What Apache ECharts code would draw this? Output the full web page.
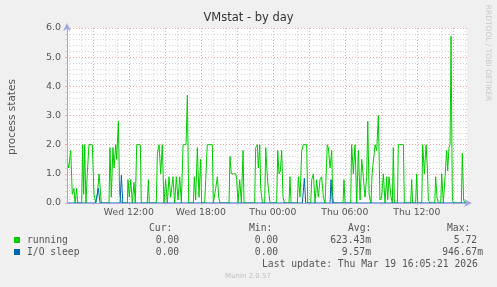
<!DOCTYPE html>
<html>
<head>
<meta charset="utf-8">
<script src="https://cdn.jsdelivr.net/npm/echarts@6/dist/echarts.min.js"></script>
<style>
html,body{margin:0;padding:0;background:#f0f0f0;}
#c{width:497px;height:287px;}
</style>
</head>
<body>
<div id="c"></div>
<script>
// time in hours since Wed 00:00
const runningTimes = [6.85,6.99,7.16,7.29,7.43,7.52,7.66,7.74,8.07,8.16,8.24,8.32,8.43,8.54,8.68,8.96,9.10,9.24,9.38,9.52,9.60,9.71,10.35,10.43,10.54,10.68,10.77,10.91,10.99,11.13,11.24,11.38,11.88,11.93,12.04,12.16,12.29,12.43,12.54,12.66,12.96,13.04,13.54,13.63,13.71,14.29,14.38,14.52,14.66,14.79,14.93,15.07,15.21,15.35,15.49,15.68,15.82,15.96,16.10,16.24,16.38,16.52,16.77,16.88,16.99,17.38,17.46,17.57,17.71,17.85,17.99,18.07,18.32,18.41,18.54,18.96,19.04,19.16,19.24,19.38,19.49,19.6,20.35,20.43,20.54,20.91,20.99,21.1,21.24,21.38,21.52,21.6,22.49,22.57,22.71,22.79,22.91,22.99,23.13,23.32,23.41,23.54,23.63,23.77,24.32,24.41,24.52,24.63,24.74,24.85,24.96,25.35,25.43,25.52,26.04,26.13,26.27,26.41,26.54,26.82,26.91,27.16,27.24,27.38,27.52,27.65,27.79,27.93,28.07,28.21,28.35,28.46,28.54,28.63,28.77,28.91,28.99,29.07,29.85,29.93,30.02,30.49,30.57,30.71,30.85,30.99,31.13,31.27,31.41,31.54,31.68,31.82,31.91,32.02,32.18,32.27,32.52,32.66,32.79,32.93,33.07,33.21,33.35,33.49,33.57,33.68,33.85,33.96,34.04,34.13,34.38,34.46,34.88,34.96,35.49,35.57,35.65,35.9,35.99,36.07,36.41,36.49,36.63,36.77,36.88,36.96,37.1,37.49,37.57,37.68,37.79,37.99,38.07,38.21,38.35,38.49,38.57,38.68,38.77,38.85,38.96,39.07,39.71,39.79,39.9,40.02,40.18];
const runningValues = [1.5,1.2,1.8,0.3,0.5,0,0.5,0,0,2.0,0.3,2.0,0,1.0,2.0,2.0,0.3,0,0.3,1.0,0.6,0,0,1.9,0.2,1.9,1.2,2.0,1.5,2.8,0.3,0,0,0.8,0.2,0.8,0,0.7,0,2.0,2.0,0,0,0.8,0,0,1.7,2.0,1.0,2.0,0,0.8,0,0.9,0.2,0.9,0,0.9,0.1,0.9,0,2.0,2.0,3.7,0,0,0.9,0.1,1.9,0.2,1.5,0,0,0.8,2.0,2.0,0,0,0.5,0.9,0.2,0,0,1.6,1.0,1.0,0.8,0,0.8,0,1.8,0,0,1.9,2.0,1.2,2.0,0.5,0,0,1.9,0.9,0.5,0,0,1.8,1.0,1.1,1.8,0.2,0,0,0.9,0,0,0.9,0.2,1.8,2.0,2.0,0,0,0.8,1.0,0,0.8,0.2,0.8,0.9,0.2,0,0,2.0,1.9,1.2,1.8,0.2,0,0,0.8,0,0,2.0,1.0,2.0,0,1.8,0.1,1.5,0.9,0.2,0.9,2.8,0.3,0,1.0,2.0,1.8,3.0,0.1,0.2,1.0,0,0.9,0.1,0.9,0.2,0,1.9,0,0,2.0,2.0,0,0,0.8,0,0,1.0,0,0,2.0,1.0,2.0,1.2,0.1,0,0,0.9,0.2,0,0,1.0,0,0.9,1.8,1.1,1.9,2.0,5.72,0.1,0,0,1.7,0.1,0,0];
const sleepTimes = [6.85,9.24,9.46,9.6,11.27,11.38,11.5,26.46,26.63,26.74,28.77,28.85,28.96,40.18];
const sleepValues = [0,0,0.5,0,0,0.95,0,0,0.85,0,0,0.8,0,0];

const xTickHours = [12,18,24,30,36];
const xTickLabels = ['Wed 12:00','Wed 18:00','Thu 00:00','Thu 06:00','Thu 12:00'];
const yTickLabels = ['0.0','1.0','2.0','3.0','4.0','5.0','6.0'];

const seriesNames = ['running','I/O sleep'];
const seriesColors = ['#00cc00','#0066b3'];
const curVals = ['0.00','0.00'];
const minVals = ['0.00','0.00'];
const avgVals = ['623.43m','9.57m'];
const maxVals = ['5.72','946.67m'];

const X_MIN = 6.85, X_MAX = 40.18;
const RED = '#f2a6a6', GRAY = '#d6d6d6', AXIS = '#a3a9e0';

const gridLines = [];
for (let h = Math.ceil(X_MIN); h <= X_MAX; h++) {
  gridLines.push({xAxis: h, lineStyle: {color: h % 3 === 0 ? RED : GRAY, type: [1,2], width: 1}});
}
for (let k = 1; k <= 30; k++) {
  const v = k / 5;
  gridLines.push({yAxis: v, lineStyle: {color: k % 5 === 0 ? RED : GRAY, type: [1,2], width: 1}});
}
const redHours = [];
for (let h = 9; h <= X_MAX; h += 3) redHours.push(h);

const mono = 'DejaVu Sans Mono';
const txtColor = '#555';
const graphic = [
  {type:'text', x:248.5, y:18, style:{text:'VMstat - by day', fontFamily:'DejaVu Sans', fontSize:11.5, fill:'#333', align:'center', verticalAlign:'middle'}},
  {type:'text', x:12, y:117, rotation:Math.PI/2, style:{text:'process states', fontFamily:'DejaVu Sans', fontSize:10.5, fill:txtColor, align:'center', verticalAlign:'middle'}},
  {type:'text', x:488, y:53, rotation:-Math.PI/2, style:{text:'RRDTOOL / TOBI OETIKER', fontFamily:'DejaVu Sans', fontSize:7.5, fill:'#c8c8c8', align:'center', verticalAlign:'middle'}},
  {type:'text', x:149, y:228, style:{text:'Cur:', fontFamily:mono, fontSize:9.7, fill:txtColor, verticalAlign:'middle'}},
  {type:'text', x:249, y:228, style:{text:'Min:', fontFamily:mono, fontSize:9.7, fill:txtColor, verticalAlign:'middle'}},
  {type:'text', x:348, y:228, style:{text:'Avg:', fontFamily:mono, fontSize:9.7, fill:txtColor, verticalAlign:'middle'}},
  {type:'text', x:447, y:228, style:{text:'Max:', fontFamily:mono, fontSize:9.7, fill:txtColor, verticalAlign:'middle'}},
  {type:'text', x:262, y:264, style:{text:'Last update: Thu Mar 19 16:05:21 2026', fontFamily:mono, fontSize:9.7, fill:txtColor, verticalAlign:'middle'}},
  {type:'text', x:248, y:276, style:{text:'Munin 2.0.57', fontFamily:'DejaVu Sans', fontSize:7, fill:'#c0c0c0', align:'center', verticalAlign:'middle'}}
];
// value columns: right edge of the cell; the SI-suffix slot is a space when empty
const colRight = [185, 284, 371, 483];
function cellText(s) { return /[0-9]$/.test(s) ? s + ' ' : s; }
seriesNames.forEach((name, i) => {
  const y = 240 + i * 12;
  graphic.push({type:'rect', shape:{x:14, y:y - 3, width:6, height:6}, style:{fill:seriesColors[i]}});
  graphic.push({type:'text', x:27, y:y, style:{text:name, fontFamily:mono, fontSize:9.7, fill:txtColor, verticalAlign:'middle'}});
  [curVals[i], minVals[i], avgVals[i], maxVals[i]].forEach((v, j) => {
    graphic.push({type:'text', x:colRight[j], y:y, style:{text:cellText(v), fontFamily:mono, fontSize:9.7, fill:txtColor, align:'right', verticalAlign:'middle'}});
  });
});

const chart = echarts.init(document.getElementById('c'), null, {renderer:'canvas'});
chart.setOption({
  animation: false,
  backgroundColor: '#f0f0f0',
  grid: {left: 67, right: 30, top: 28, bottom: 84, show: true, backgroundColor: '#ffffff', borderWidth: 0},
  xAxis: {
    type: 'value', min: X_MIN, max: X_MAX, z: 20,
    axisLine: {show: true, onZero: false, lineStyle: {color: AXIS, width: 1}, symbol: ['none','arrow'], symbolSize: [6,8], symbolOffset: [0,5]},
    axisTick: {show: true, customValues: redHours, length: 2, lineStyle: {color: RED}},
    axisLabel: {customValues: xTickHours, color: txtColor, fontFamily: 'DejaVu Sans', fontSize: 9.3, margin: 5,
      formatter: v => { const i = xTickHours.indexOf(Math.round(v)); return i >= 0 ? xTickLabels[i] : ''; }},
    splitLine: {show: false}
  },
  yAxis: {
    type: 'value', min: 0, max: 6, interval: 1, z: 20,
    axisLine: {show: true, lineStyle: {color: AXIS, width: 1}, symbol: ['none','arrow'], symbolSize: [6,8], symbolOffset: [0,5]},
    axisTick: {show: true, length: 2, lineStyle: {color: RED}},
    minorTick: {show: true, splitNumber: 5, length: 2, lineStyle: {color: GRAY}},
    axisLabel: {color: txtColor, fontFamily: 'DejaVu Sans', fontSize: 9.5, margin: 6,
      formatter: v => yTickLabels[Math.round(v)]},
    splitLine: {show: false}
  },
  graphic: graphic,
  series: [
    {name: 'grid', type: 'line', data: [[X_MIN, 0]], showSymbol: false, symbol: 'none', lineStyle: {width: 0, opacity: 0}, z: 1, silent: true,
     markLine: {silent: true, symbol: 'none', z: 1, animation: false, label: {show: false}, emphasis: {disabled: true}, data: gridLines}},
    {name: seriesNames[0], type: 'line', data: runningTimes.map((t, i) => [t, runningValues[i]]), showSymbol: false, symbol: 'none',
     lineStyle: {color: seriesColors[0], width: 1}, itemStyle: {color: seriesColors[0]}, z: 10},
    {name: seriesNames[1], type: 'line', data: sleepTimes.map((t, i) => [t, sleepValues[i]]), showSymbol: false, symbol: 'none',
     lineStyle: {color: seriesColors[1], width: 1}, itemStyle: {color: seriesColors[1]}, z: 11}
  ]
});
</script>
</body>
</html>
